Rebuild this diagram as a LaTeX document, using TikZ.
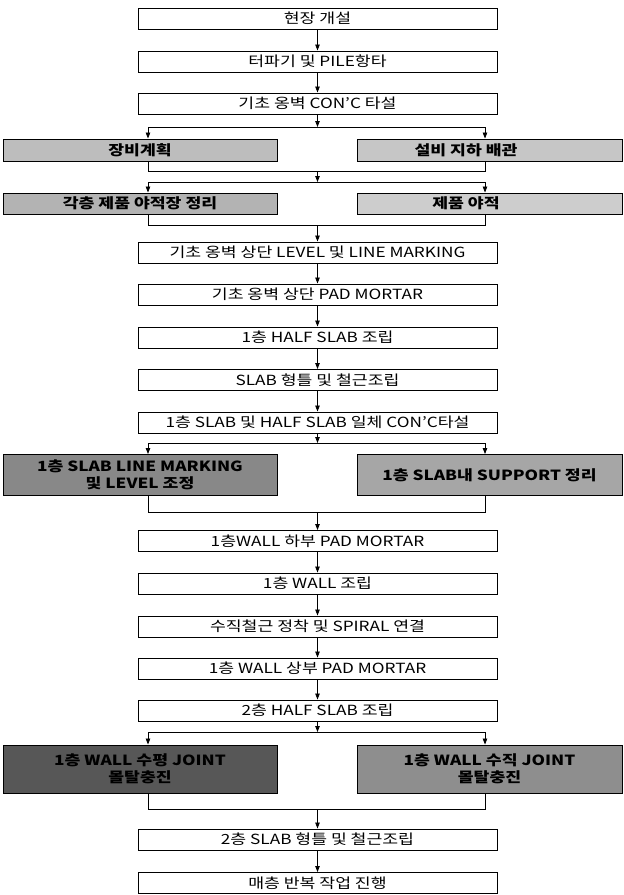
\documentclass[tikz,border=0pt]{standalone}
\usepackage{graphicx}
\usepackage{fontspec}
\setmainfont{Noto Sans CJK KR}
\usetikzlibrary{arrows.meta}
\newcommand{\hs}[1]{\scalebox{1.23}[1]{#1}}
\definecolor{gA}{HTML}{BDBDBD}
\definecolor{gB}{HTML}{C6C6C6}
\definecolor{gC}{HTML}{B3B3B3}
\definecolor{gD}{HTML}{CDCDCD}
\definecolor{gE}{HTML}{888888}
\definecolor{gF}{HTML}{A6A6A6}
\definecolor{gG}{HTML}{575757}
\definecolor{gH}{HTML}{8E8E8E}
\begin{document}
\begin{tikzpicture}[x=1pt,y=-1pt,
  mainbox/.style={draw=black,line width=0.9pt,fill=white,minimum width=359pt,minimum height=21pt,inner sep=0pt,font=\fontsize{14}{17}\selectfont},
  graybox/.style={draw=black,line width=0.9pt,inner sep=0pt,align=center,font=\fontsize{14}{17}\selectfont\bfseries},
  lgray/.style={graybox,minimum width=274pt},
  rgray/.style={graybox,minimum width=265pt},
  graytext/.style={inner sep=0pt,font=\fontsize{14}{17}\selectfont\bfseries},
  ln/.style={line width=0.8pt},
  arr/.style={ln,-{Triangle[length=6pt,width=4.5pt]}}]
\useasboundingbox (0,0) rectangle (624,895);

% top chain
\node[mainbox] (b1) at (317.5,18.5) {\hs{현장 개설}};
\node[mainbox] (b2) at (317.5,61.5) {\hs{터파기 및 PILE항타}};
\node[mainbox] (b3) at (317.5,103.5) {\hs{기초 옹벽 CON'C 타설}};
\draw[arr] (b1) -- (b2);
\draw[arr] (b2) -- (b3);

% gray row 1
\node[lgray,fill=gA,minimum height=22pt] (g1l) at (140,150) {\hs{장비계획}};
\node[rgray,fill=gB,minimum height=22pt] (g1r) at (489.5,150) {};
\node[graytext] (g1rt) at (466,150) {\hs{설비 지하 배관}};
\coordinate (s1) at (317.5,127);
\coordinate (s1l) at (148,127);
\coordinate (s1r) at (485,127);
\draw[arr] (b3) -- (s1);
\draw[ln] (s1l) -- (s1r);
\draw[arr] (s1l) -- (s1l |- g1l.north);
\draw[arr] (s1r) -- (s1r |- g1r.north);

% gray row 2
\node[lgray,fill=gC,minimum height=21pt] (g2l) at (140,203.5) {\hs{각층 제품 야적장 정리}};
\node[rgray,fill=gD,minimum height=21pt] (g2r) at (489.5,203.5) {};
\node[graytext] (g2rt) at (466,203.5) {\hs{제품 야적}};
\coordinate (m1) at (317.5,171);
\coordinate (m1l) at (148,171);
\coordinate (m1r) at (485,171);
\coordinate (s2) at (317.5,182);
\coordinate (s2l) at (148,182);
\coordinate (s2r) at (485,182);
\draw[ln] (m1l |- g1l.south) -- (m1l) -- (m1r) -- (m1r |- g1r.south);
\draw[arr] (m1) -- (s2);
\draw[ln] (s2l) -- (s2r);
\draw[arr] (s2l) -- (s2l |- g2l.north);
\draw[arr] (s2r) -- (s2r |- g2r.north);

% middle chain 1
\node[mainbox] (b4) at (317.5,252.5) {\hs{기초 옹벽 상단 LEVEL 및 LINE MARKING}};
\node[mainbox] (b5) at (317.5,294.5) {\hs{기초 옹벽 상단 PAD MORTAR}};
\node[mainbox] (b6) at (317.5,337.5) {\hs{1층 HALF SLAB 조립}};
\node[mainbox] (b7) at (317.5,380) {\hs{SLAB 형틀 및 철근조립}};
\node[mainbox] (b8) at (317.5,422.5) {\hs{1층 SLAB 및 HALF SLAB 일체 CON'C타설}};
\coordinate (m2) at (317.5,225);
\coordinate (m2l) at (148,225);
\coordinate (m2r) at (485,225);
\draw[ln] (m2l |- g2l.south) -- (m2l) -- (m2r) -- (m2r |- g2r.south);
\draw[arr] (m2) -- (b4);
\draw[arr] (b4) -- (b5);
\draw[arr] (b5) -- (b6);
\draw[arr] (b6) -- (b7);
\draw[arr] (b7) -- (b8);

% gray row 3
\node[lgray,fill=gE,minimum height=41pt] (g3l) at (140,475) {\hs{1층 SLAB LINE MARKING}\\\hs{및 LEVEL 조정}};
\node[rgray,fill=gF,minimum height=41pt] (g3r) at (489.5,475) {\hs{1층 SLAB내 SUPPORT 정리}};
\coordinate (s3) at (317.5,443);
\coordinate (s3l) at (148,443);
\coordinate (s3r) at (485,443);
\draw[arr] (b8) -- (s3);
\draw[ln] (s3l) -- (s3r);
\draw[arr] (s3l) -- (s3l |- g3l.north);
\draw[arr] (s3r) -- (s3r |- g3r.north);

% middle chain 2
\node[mainbox] (b9) at (317.5,541) {\hs{1층WALL 하부 PAD MORTAR}};
\node[mainbox] (b10) at (317.5,583.5) {\hs{1층 WALL 조립}};
\node[mainbox] (b11) at (317.5,626.5) {\hs{수직철근 정착 및 SPIRAL 연결}};
\node[mainbox] (b12) at (317.5,668.5) {\hs{1층 WALL 상부 PAD MORTAR}};
\node[mainbox] (b13) at (317.5,710.5) {\hs{2층 HALF SLAB 조립}};
\coordinate (m3) at (317.5,512);
\coordinate (m3l) at (148,512);
\coordinate (m3r) at (485,512);
\draw[ln] (m3l |- g3l.south) -- (m3l) -- (m3r) -- (m3r |- g3r.south);
\draw[arr] (m3) -- (b9);
\draw[arr] (b9) -- (b10);
\draw[arr] (b10) -- (b11);
\draw[arr] (b11) -- (b12);
\draw[arr] (b12) -- (b13);

% gray row 4
\node[lgray,fill=gG,minimum height=48pt] (g4l) at (140,769) {\hs{1층 WALL 수평 JOINT}\\\hs{몰탈충진}};
\node[rgray,fill=gH,minimum height=48pt] (g4r) at (489.5,769) {\hs{1층 WALL 수직 JOINT}\\\hs{몰탈충진}};
\coordinate (s4) at (317.5,732);
\coordinate (s4l) at (148,732);
\coordinate (s4r) at (485,732);
\draw[arr] (b13) -- (s4);
\draw[ln] (s4l) -- (s4r);
\draw[arr] (s4l) -- (s4l |- g4l.north);
\draw[arr] (s4r) -- (s4r |- g4r.north);

% bottom chain
\node[mainbox] (b14) at (317.5,839.5) {\hs{2층 SLAB 형틀 및 철근조립}};
\node[mainbox] (b15) at (317.5,883) {\hs{매층 반복 작업 진행}};
\coordinate (m4) at (317.5,809);
\coordinate (m4l) at (148,809);
\coordinate (m4r) at (485,809);
\draw[ln] (m4l |- g4l.south) -- (m4l) -- (m4r) -- (m4r |- g4r.south);
\draw[arr] (m4) -- (b14);
\draw[arr] (b14) -- (b15);
\end{tikzpicture}
\end{document}
